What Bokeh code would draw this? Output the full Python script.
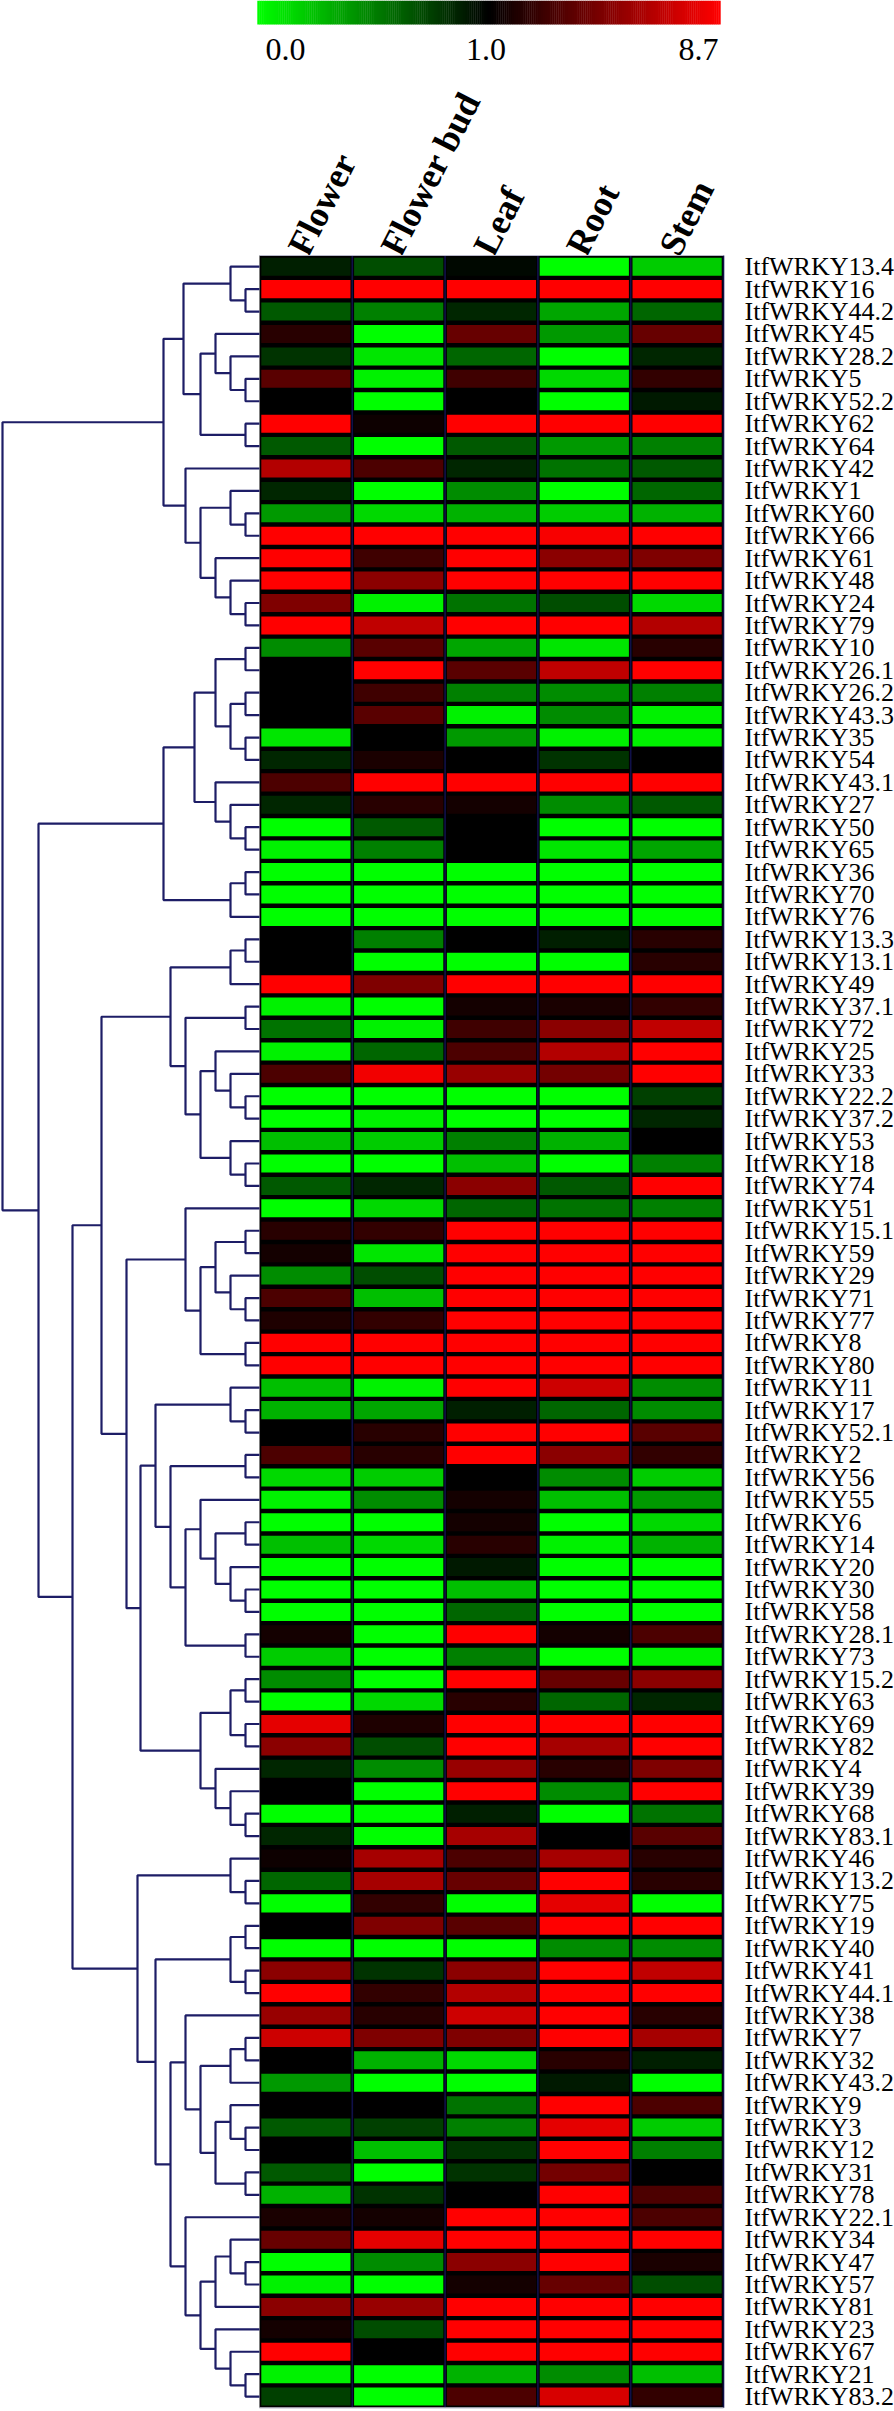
from bokeh.plotting import figure
from bokeh.models import Range1d, ColumnDataSource
from bokeh.core.properties import value
from bokeh.embed import file_html
from bokeh.resources import INLINE

# ---------------- data ----------------
tissues = ["Flower", "Flower bud", "Leaf", "Root", "Stem"]

genes = ["ItfWRKY13.4", "ItfWRKY16", "ItfWRKY44.2", "ItfWRKY45", "ItfWRKY28.2", "ItfWRKY5",
         "ItfWRKY52.2", "ItfWRKY62", "ItfWRKY64", "ItfWRKY42", "ItfWRKY1", "ItfWRKY60",
         "ItfWRKY66", "ItfWRKY61", "ItfWRKY48", "ItfWRKY24", "ItfWRKY79", "ItfWRKY10",
         "ItfWRKY26.1", "ItfWRKY26.2", "ItfWRKY43.3", "ItfWRKY35", "ItfWRKY54", "ItfWRKY43.1",
         "ItfWRKY27", "ItfWRKY50", "ItfWRKY65", "ItfWRKY36", "ItfWRKY70", "ItfWRKY76",
         "ItfWRKY13.3", "ItfWRKY13.1", "ItfWRKY49", "ItfWRKY37.1", "ItfWRKY72", "ItfWRKY25",
         "ItfWRKY33", "ItfWRKY22.2", "ItfWRKY37.2", "ItfWRKY53", "ItfWRKY18", "ItfWRKY74",
         "ItfWRKY51", "ItfWRKY15.1", "ItfWRKY59", "ItfWRKY29", "ItfWRKY71", "ItfWRKY77",
         "ItfWRKY8", "ItfWRKY80", "ItfWRKY11", "ItfWRKY17", "ItfWRKY52.1", "ItfWRKY2",
         "ItfWRKY56", "ItfWRKY55", "ItfWRKY6", "ItfWRKY14", "ItfWRKY20", "ItfWRKY30",
         "ItfWRKY58", "ItfWRKY28.1", "ItfWRKY73", "ItfWRKY15.2", "ItfWRKY63", "ItfWRKY69",
         "ItfWRKY82", "ItfWRKY4", "ItfWRKY39", "ItfWRKY68", "ItfWRKY83.1", "ItfWRKY46",
         "ItfWRKY13.2", "ItfWRKY75", "ItfWRKY19", "ItfWRKY40", "ItfWRKY41", "ItfWRKY44.1",
         "ItfWRKY38", "ItfWRKY7", "ItfWRKY32", "ItfWRKY43.2", "ItfWRKY9", "ItfWRKY3",
         "ItfWRKY12", "ItfWRKY31", "ItfWRKY78", "ItfWRKY22.1", "ItfWRKY34", "ItfWRKY47",
         "ItfWRKY57", "ItfWRKY81", "ItfWRKY23", "ItfWRKY67", "ItfWRKY21", "ItfWRKY83.2"]

flower = [0.88, 8.7, 0.65, 2.2, 0.8, 3.7, 1.0, 8.7, 0.65, 6.4,
          0.85, 0.4, 8.7, 8.7, 8.7, 4.85, 8.7, 0.45, 1.0, 1.0,
          1.0, 0.1, 0.85, 3.3, 0.85, 0.0, 0.05, 0.0, 0.0, 0.0,
          1.0, 1.0, 8.7, 0.05, 0.55, 0.05, 3.3, 0.0, 0.0, 0.25,
          0.0, 0.65, 0.0, 2.2, 1.6, 0.45, 3.3, 1.9, 8.7, 8.7,
          0.25, 0.3, 1.0, 3.3, 0.15, 0.05, 0.0, 0.25, 0.0, 0.0,
          0.0, 1.6, 0.2, 0.45, 0.0, 7.9, 5.2, 0.85, 1.0, 0.0,
          0.85, 1.4, 0.6, 0.0, 1.0, 0.0, 5.2, 8.7, 5.6, 7.2,
          1.0, 0.4, 1.0, 0.65, 1.0, 0.65, 0.3, 1.8, 4.1, 0.0,
          0.05, 5.2, 1.6, 8.7, 0.05, 0.75]
flower_bud = [0.7, 8.7, 0.5, 0.0, 0.1, 0.05, 0.0, 1.4, 0.0, 3.3,
              0.0, 0.15, 8.7, 2.9, 5.2, 0.05, 6.8, 3.7, 8.7, 2.9,
              3.7, 1.0, 1.8, 8.7, 2.2, 0.65, 0.5, 0.0, 0.0, 0.0,
              0.5, 0.0, 4.85, 0.0, 0.05, 0.6, 8.3, 0.0, 0.05, 0.2,
              0.0, 0.85, 0.15, 2.5, 0.1, 0.7, 0.25, 2.5, 8.7, 8.7,
              0.05, 0.35, 2.2, 2.2, 0.2, 0.45, 0.0, 0.15, 0.0, 0.0,
              0.0, 0.0, 0.0, 0.0, 0.15, 1.9, 0.7, 0.45, 0.0, 0.0,
              0.0, 6.0, 6.0, 2.5, 4.85, 0.0, 0.8, 2.5, 2.2, 4.85,
              0.3, 0.0, 1.0, 0.75, 0.25, 0.0, 0.8, 1.6, 7.9, 0.45,
              0.0, 5.6, 0.7, 1.0, 0.0, 0.0]
leaf = [0.97, 8.7, 0.85, 4.1, 0.6, 2.9, 1.0, 8.7, 0.65, 0.85,
        0.45, 0.3, 8.7, 8.7, 8.7, 0.55, 8.7, 0.35, 3.7, 0.5,
        0.05, 0.4, 1.0, 8.7, 1.6, 1.0, 1.0, 0.0, 0.0, 0.0,
        1.0, 0.0, 8.7, 1.6, 2.9, 3.3, 5.6, 0.0, 0.0, 0.5,
        0.25, 5.2, 0.6, 8.7, 8.7, 8.7, 8.7, 8.7, 8.7, 8.7,
        8.7, 0.88, 8.7, 8.7, 1.0, 1.6, 1.6, 2.2, 0.9, 0.25,
        0.6, 8.7, 0.5, 8.7, 2.2, 8.7, 8.7, 5.6, 8.7, 0.88,
        6.0, 3.3, 4.1, 0.0, 3.7, 0.0, 5.2, 6.4, 7.2, 4.85,
        0.15, 0.0, 0.55, 0.5, 0.8, 0.8, 1.0, 8.7, 8.7, 5.2,
        1.6, 8.7, 8.7, 8.7, 0.3, 3.3]
root = [0.0, 8.7, 0.35, 0.4, 0.0, 0.15, 0.0, 8.7, 0.4, 0.55,
        0.0, 0.2, 8.5, 5.2, 8.7, 0.7, 8.7, 0.1, 6.8, 0.45,
        0.45, 0.05, 0.8, 8.7, 0.45, 0.0, 0.1, 0.0, 0.0, 0.0,
        0.88, 0.0, 8.7, 1.8, 5.2, 6.4, 4.5, 0.0, 0.0, 0.3,
        0.0, 0.65, 0.55, 8.7, 8.7, 8.7, 8.7, 8.7, 8.7, 8.7,
        7.2, 0.6, 8.7, 5.2, 0.45, 0.25, 0.0, 0.05, 0.0, 0.0,
        0.0, 1.6, 0.0, 4.1, 0.6, 8.7, 6.0, 2.2, 0.45, 0.0,
        1.0, 6.0, 8.7, 7.9, 8.7, 0.45, 8.7, 8.7, 8.7, 8.7,
        2.2, 0.9, 8.7, 7.9, 8.7, 4.5, 8.7, 8.7, 8.7, 8.7,
        4.1, 8.7, 8.7, 8.7, 0.45, 7.5]
stem = [0.2, 8.7, 0.6, 4.1, 0.85, 2.5, 0.9, 8.7, 0.5, 0.65,
        0.6, 0.3, 8.7, 4.85, 8.7, 0.15, 6.4, 2.2, 8.7, 0.5,
        0.05, 0.05, 1.0, 8.7, 0.65, 0.0, 0.35, 0.0, 0.0, 0.0,
        2.2, 2.2, 8.7, 2.5, 6.8, 8.7, 8.7, 0.75, 0.85, 1.0,
        0.5, 8.7, 0.5, 8.7, 8.7, 8.7, 8.7, 8.7, 8.7, 8.7,
        0.45, 0.45, 3.7, 2.5, 0.2, 0.4, 0.15, 0.3, 0.0, 0.0,
        0.0, 3.3, 0.05, 5.2, 0.85, 8.7, 8.7, 4.85, 8.7, 0.55,
        3.7, 2.2, 2.2, 0.0, 8.7, 0.45, 6.8, 8.7, 2.2, 6.0,
        0.88, 0.0, 3.3, 0.2, 0.5, 1.0, 3.3, 3.3, 8.7, 1.8,
        0.7, 8.7, 8.7, 8.7, 0.25, 2.5]

colorbar_ticks = [0.0, 1.0, 8.7]
colorbar_labels = ["0.0", "1.0", "8.7"]

# dendrogram: [merge distance, left, right]; ints are row indices
tree = [257,
        [96,
         [76, [29, 0, [14, 1, 2]],
              [59, [44, 3, [29, 4, [14, 5, 6]]], [14, 7, 8]]],
         [74, 9, [59, [29, 10, [14, 11, 12]], [44, 13, [29, 14, [14, 15, 16]]]]]],
        [221,
         [96,
          [65, [44, [14, 17, 18], [29, [14, 19, 20], [14, 21, 22]]],
               [44, 23, [29, 24, [14, 25, 26]]]],
          [29, [14, 27, 28], 29]],
         [187,
          [158,
           [89, [29, [14, 30, 31], 32],
                [74, [14, 33, 34],
                     [59, [44, 35, [29, 36, [14, 37, 38]]], [29, 39, [14, 40, 41]]]]],
           [133,
            [74, 42, [59, [44, [14, 43, 44], [29, 45, [14, 46, 47]]], [14, 48, 49]]],
            [119,
             [104, [29, 50, [14, 51, 52]],
                   [89, [14, 53, 54],
                        [74, [59, 55, [44, [14, 56, 57], [29, 58, [14, 59, 60]]]], [14, 61, 62]]]],
             [59, [29, [14, 63, 64], [14, 65, 66]], [44, 67, [29, 68, [14, 69, 70]]]]]]],
          [122,
           [29, 71, [14, 72, 73]],
           [104,
            [29, [14, 74, 75], [14, 76, 77]],
            [89,
             [74, 78, [59, [29, [14, 79, 80], 81], [44, [29, 82, [14, 83, 84]], [14, 85, 86]]]],
             [74, 87, [59, [44, [29, 88, [14, 89, 90]], 91], [44, 92, [29, 93, [14, 94, 95]]]]]]]]]]]

# ---------------- layout ----------------
W, H = 894, 2411
HM_L, HM_R = 259.0, 723.0
HM_T = 255.0
n_rows = len(genes)
pitch = 22.42
HM_B = HM_T + n_rows * pitch
col_w = (HM_R - HM_L) / len(tissues)
DEND_SCALE = (HM_L - 2.0) / tree[0]
LINE_COL = "#1d1d66"


def cell_color(v):
    if v <= 1.0:
        g = int(round(255 * (1.0 - max(v, 0.0))))
        return "#%02x%02x%02x" % (0, g, 0)
    r = int(round(255 * min((v - 1.0) / 7.7, 1.0)))
    return "#%02x%02x%02x" % (r, 0, 0)


def row_y(i):
    return HM_T + (i + 0.5) * pitch


p = figure(width=W, height=H, x_range=Range1d(0, W), y_range=Range1d(H, 0),
           output_backend="svg", toolbar_location=None, min_border=0)
p.axis.visible = False
p.grid.visible = False
p.outline_line_color = None
p.background_fill_color = "white"
p.border_fill_color = "white"

# ---- color bar ----
CB_L, CB_R, CB_T, CB_B = 257.0, 720.0, 0.0, 24.0
nseg = 120
seg_w = (CB_R - CB_L) / (2 * nseg)
cb_x, cb_c = [], []
for k in range(2 * nseg):
    if k < nseg:
        v = colorbar_ticks[0] + (colorbar_ticks[1] - colorbar_ticks[0]) * (k + 0.5) / nseg
    else:
        v = colorbar_ticks[1] + (colorbar_ticks[2] - colorbar_ticks[1]) * (k - nseg + 0.5) / nseg
    cb_x.append(CB_L + (k + 0.5) * seg_w)
    cb_c.append(cell_color(v))
p.rect(x=cb_x, y=[(CB_T + CB_B) / 2] * len(cb_x), width=seg_w + 0.4, height=CB_B - CB_T,
       fill_color=cb_c, line_color=None)
p.text(x=[CB_L + 28, (CB_L + CB_R) / 2 - 3, CB_R - 22], y=[49] * 3, text=colorbar_labels,
       text_font=value("Liberation Serif"), text_font_size="32px", text_align="center",
       text_baseline="middle", text_color="black")

# ---- column headers ----
p.text(x=[HM_L + 38 + j * col_w for j in range(len(tissues))], y=[HM_T - 3] * len(tissues),
       text=tissues, angle=63, angle_units="deg", text_font=value("Liberation Serif"),
       text_font_style="bold", text_font_size="36px", text_align="left",
       text_baseline="alphabetic", text_color="black")

# ---- heatmap ----
p.quad(left=[HM_L], right=[HM_R], top=[HM_T], bottom=[HM_B], fill_color="black", line_color=None)
series = [flower, flower_bud, leaf, root, stem]
xs, ys, cs = [], [], []
for j, vals in enumerate(series):
    for i, v in enumerate(vals):
        xs.append(HM_L + (j + 0.5) * col_w)
        ys.append(row_y(i))
        cs.append(cell_color(v))
src = ColumnDataSource(dict(x=xs, y=ys, c=cs))
p.rect(x="x", y="y", width=col_w - 3.6, height=pitch - 4.4, fill_color="c",
       line_color=None, source=src)
p.segment(x0=[HM_L + j * col_w for j in range(1, 6)], x1=[HM_L + j * col_w for j in range(1, 6)],
          y0=[HM_T] * 5, y1=[HM_B] * 5, line_color="#10104a", line_width=1.6)
p.segment(x0=[HM_L, HM_L], x1=[HM_R, HM_R], y0=[HM_T, HM_B], y1=[HM_T, HM_B],
          line_color="#b8b8c8", line_width=1.2)

# ---- row labels ----
p.text(x=[744] * n_rows, y=[row_y(i) for i in range(n_rows)], text=genes,
       text_font=value("Liberation Serif"), text_font_size="26px", text_align="left",
       text_baseline="middle", text_color="black")

# ---- dendrogram ----
dxs, dys = [], []


def walk(node):
    if isinstance(node, int):
        return HM_L, row_y(node)
    h, a, b = node
    xa, ya = walk(a)
    xb, yb = walk(b)
    x = HM_L - h * DEND_SCALE
    dxs.append([xa, x, x, xb])
    dys.append([ya, ya, yb, yb])
    return x, (ya + yb) / 2


walk(tree)
p.multi_line(xs=dxs, ys=dys, line_color=LINE_COL, line_width=2.2)

open("out.html", "w").write(file_html(p, INLINE))
